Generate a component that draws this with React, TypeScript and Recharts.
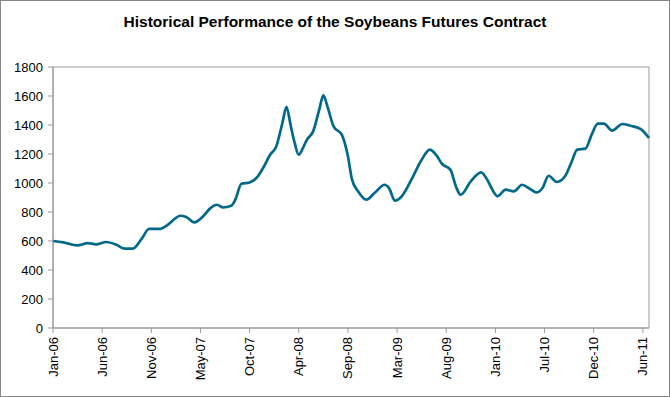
import React from "react";
import { LineChart, Line, XAxis, YAxis, ReferenceArea } from "recharts";

// week index since the start of Jan-06 (one x tick every 24 weeks)
const weeks = [
  0, 5, 12, 17, 21, 26, 31, 35, 39, 43, 47, 52, 56, 60, 62, 65, 69, 73, 77, 80,
  83, 87, 89, 92, 96, 100, 103, 106, 109, 112, 114, 116, 118, 120, 122, 124,
  127, 130, 132, 134, 137, 141, 144, 146, 149, 153, 157, 162, 164, 167, 170,
  175, 180, 184, 187, 190, 194, 197, 199, 204, 209, 212, 215, 217, 221, 225,
  229, 233, 236, 239, 242, 246, 250, 253, 256, 260, 263, 266, 269, 273, 278,
  282, 287, 291,
];

// soybeans futures price (cents/bushel)
const prices = [
  600, 590, 570, 586, 577, 593, 574, 547, 547, 609, 683, 683, 712, 759, 774,
  766, 728, 766, 828, 850, 832, 843, 885, 995, 1004, 1046, 1114, 1195, 1252,
  1414, 1526, 1400, 1276, 1195, 1241, 1299, 1356, 1506, 1604, 1528, 1390,
  1333, 1184, 1023, 942, 885, 931, 988, 966, 878, 903, 1023, 1161, 1230, 1195,
  1131, 1092, 966, 919, 1011, 1073, 1023, 942, 908, 954, 942, 988, 958, 935,
  966, 1050, 1007, 1046, 1138, 1230, 1237, 1333, 1409, 1409, 1361, 1407, 1395,
  1372, 1310,
];

const tickWeeks = [0, 24, 48, 72, 96, 120, 144, 168, 192, 216, 240, 264, 288];
const tickLabels = [
  "Jan-06", "Jun-06", "Nov-06", "May-07", "Oct-07", "Apr-08", "Sep-08",
  "Mar-09", "Aug-09", "Jan-10", "Jul-10", "Dec-10", "Jun-11",
];

const yTicks = [0, 200, 400, 600, 800, 1000, 1200, 1400, 1600, 1800];

const data = weeks.map((w, i) => ({ week: w, price: prices[i] }));

const FONT = "'Liberation Sans', Arial, sans-serif";
const AXIS = "#999999";

function DateTick(props: any) {
  const { x, y, payload } = props;
  const idx = tickWeeks.indexOf(payload.value);
  return (
    <text
      x={x}
      y={y}
      transform={`rotate(-90, ${x}, ${y})`}
      textAnchor="end"
      dy="0.35em"
      fontSize={13}
      fontFamily={FONT}
      fill="#000"
    >
      {idx >= 0 ? tickLabels[idx] : ""}
    </text>
  );
}

export default function App() {
  return (
    <div
      style={{
        position: "absolute",
        left: 0,
        top: 0,
        width: 670,
        height: 397,
        border: "1px solid #888",
        boxSizing: "border-box",
        background: "#fff",
      }}
    >
      <div
        style={{
          position: "absolute",
          left: 0,
          top: 12,
          width: 668,
          textAlign: "center",
          fontFamily: FONT,
          fontWeight: "bold",
          fontSize: 15.5,
          color: "#000",
        }}
      >
        Historical Performance of the Soybeans Futures Contract
      </div>
      <div style={{ position: "absolute", left: -1, top: -1 }}>
        <LineChart
          width={670}
          height={397}
          data={data}
          margin={{ top: 67, right: 21, bottom: 0, left: 0 }}
        >
          <ReferenceArea
            x1={0}
            x2={291}
            y1={0}
            y2={1800}
            fill="none"
            stroke={AXIS}
            strokeWidth={1}
          />
          <XAxis
            dataKey="week"
            type="number"
            domain={[0, 291]}
            ticks={tickWeeks}
            interval={0}
            height={69}
            tickSize={5}
            tickMargin={4}
            axisLine={{ stroke: AXIS }}
            tickLine={{ stroke: AXIS }}
            tick={<DateTick />}
          />
          <YAxis
            type="number"
            domain={[0, 1800]}
            ticks={yTicks}
            interval={0}
            width={53}
            tickSize={5}
            tickMargin={5}
            axisLine={{ stroke: AXIS }}
            tickLine={{ stroke: AXIS }}
            tick={{ fontSize: 13, fontFamily: FONT, fill: "#000" }}
          />
          <Line
            type="monotone"
            dataKey="price"
            stroke="#03698A"
            strokeWidth={2.7}
            dot={false}
            isAnimationActive={false}
          />
        </LineChart>
      </div>
    </div>
  );
}
